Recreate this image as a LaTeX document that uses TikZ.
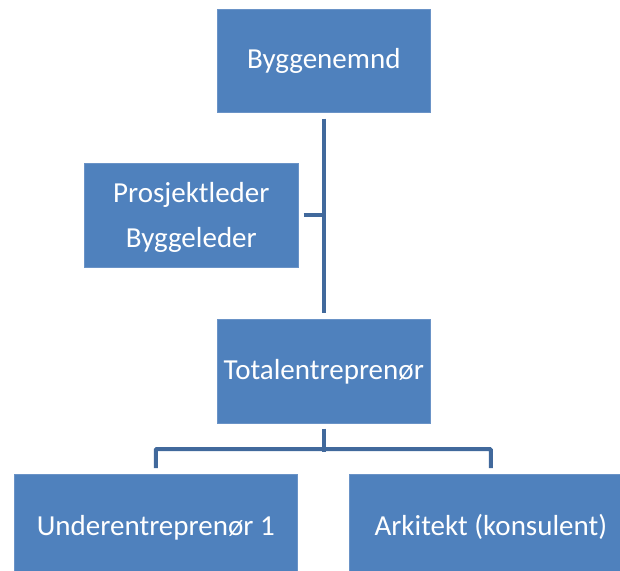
\documentclass[tikz,border=0pt]{standalone}
\usepackage{fontspec}
\setmainfont{Carlito}
\definecolor{boxblue}{HTML}{4F81BD}
\definecolor{boxedge}{HTML}{6A93C7}
\definecolor{connblue}{HTML}{41699C}
\begin{document}
\begin{tikzpicture}[x=1pt,y=1pt,
  orgbox/.style={fill=boxblue, draw=boxedge, line width=0.6pt, inner sep=0pt,
    anchor=north west, text=white, font=\fontsize{29}{45}\selectfont},
  conn/.style={draw=connblue, line width=4pt}]
\useasboundingbox (0,0) rectangle (620,570);
\clip (0,0) rectangle (620,570);
\node[orgbox, minimum width=213pt, text height=59pt, text depth=44pt] (bn) at (217,561) {Byggenemnd};
\node[orgbox, minimum width=214pt, text height=39pt, text depth=65pt] (pl) at (84,407)
  {\vtop{\halign{\hfil#\hfil\cr Prosjektleder\cr Byggeleder\cr}}};
\node[orgbox, minimum width=213pt, text height=60pt, text depth=44pt] (te) at (217,251) {Totalentreprenør};
\node[orgbox, minimum width=283pt, text height=61pt, text depth=45pt] (u1) at (14,96) {Underentreprenør 1};
\node[orgbox, minimum width=283pt, text height=61pt, text depth=45pt] (ar) at (349,96) {Arkitekt (konsulent)};
\draw[conn] ([yshift=-6pt]bn.south) -- ([yshift=6pt]te.north);
\draw[conn] ([xshift=5pt]pl.east) -- (bn.south |- pl.east);
\draw[conn] ([yshift=-5pt]te.south) -- ++(0,-23);
\draw[conn, rounded corners=1pt] ([yshift=6pt]u1.north) -- ++(0,19) -| ([yshift=6pt]ar.north);
\end{tikzpicture}
\end{document}
